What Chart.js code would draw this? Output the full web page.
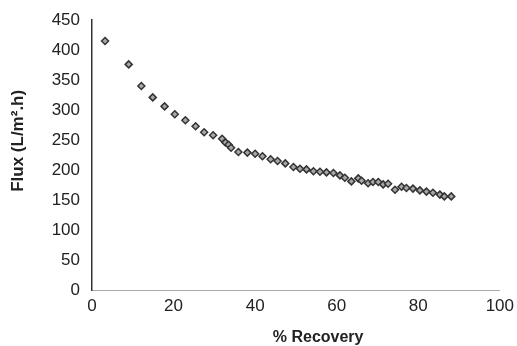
<!DOCTYPE html>
<html>
<head>
<meta charset="utf-8">
<script src="https://cdn.jsdelivr.net/npm/chart.js@4"></script>
<style>
  html, body { margin: 0; padding: 0; background: #fff; }
  #wrap { width: 517px; height: 346px; }
</style>
</head>
<body>
<div id="wrap"><canvas id="fluxChart" width="517" height="346"></canvas></div>
<script>
var recovery = [3.2, 9.0, 12.1, 14.9, 17.8, 20.3, 22.9, 25.4, 27.5, 29.7, 31.9, 32.7, 33.5, 34.1, 35.9, 38.1,
  40.0, 41.8, 43.8, 45.5, 47.4, 49.4, 51.0, 52.6, 54.3, 55.9, 57.5, 59.2, 60.8, 62.0, 63.6, 65.3,
  66.1, 67.7, 68.9, 70.2, 71.4, 72.6, 74.3, 75.9, 77.1, 78.7, 80.4, 82.0, 83.6, 85.3, 86.4, 88.1];
var flux = [415, 376, 340, 321, 306, 293, 283, 273, 263, 258, 252, 246, 242, 237, 230, 229,
  227, 223, 218, 215, 211, 205, 202, 201, 198, 197, 196, 195, 191, 187, 181, 186,
  182, 178, 180, 180, 176, 177, 167, 172, 170, 169, 166, 164, 162, 159, 156, 156];
var xTicks = [0, 20, 40, 60, 80, 100];
var yTicks = [0, 50, 100, 150, 200, 250, 300, 350, 400, 450];

var points = recovery.map(function (r, i) { return { x: r, y: flux[i] }; });

new Chart("fluxChart", {
  type: "scatter",
  data: {
    datasets: [{
      data: points,
      pointStyle: "rectRot",
      pointRadius: 3.5,
      backgroundColor: "#a8a8a8",
      borderColor: "#333",
      borderWidth: 1.5
    }]
  },
  options: {
    responsive: false,
    animation: false,
    layout: { padding: { top: 20, right: 0, left: 0, bottom: 0 } },
    plugins: { legend: { display: false }, tooltip: { enabled: false } },
    scales: {
      x: {
        type: "linear",
        min: 0, max: 100,
        afterBuildTicks: function (s) { s.ticks = xTicks.map(function (v) { return { value: v }; }); },
        afterFit: function (s) { s.height = 56; },
        grid: { display: false, drawTicks: true, tickLength: 3 },
        border: { color: "#aaa", width: 1, dash: [5, 3] },
        ticks: { color: "#222", font: { family: "Liberation Sans", size: 17 }, padding: 3, maxRotation: 0 },
        title: { display: true, text: "          % Recovery", color: "#222",
          font: { family: "Liberation Sans", size: 16, weight: "bold", lineHeight: 1 }, padding: { top: 0, bottom: 0 } }
      },
      y: {
        min: 0, max: 450,
        afterBuildTicks: function (s) { s.ticks = yTicks.map(function (v) { return { value: v }; }); },
        afterFit: function (s) { s.width = 92; },
        grid: { display: false, drawTicks: true, tickLength: 4 },
        border: { color: "#333", width: 1.5 },
        ticks: { color: "#222", font: { family: "Liberation Sans", size: 17 }, padding: 8 },
        title: { display: true, text: "      Flux (L/m².h)", color: "#222",
          font: { family: "Liberation Sans", size: 17, weight: "bold", lineHeight: 1 }, padding: { top: 10, bottom: 0 } }
      }
    }
  }
});
</script>
</body>
</html>
